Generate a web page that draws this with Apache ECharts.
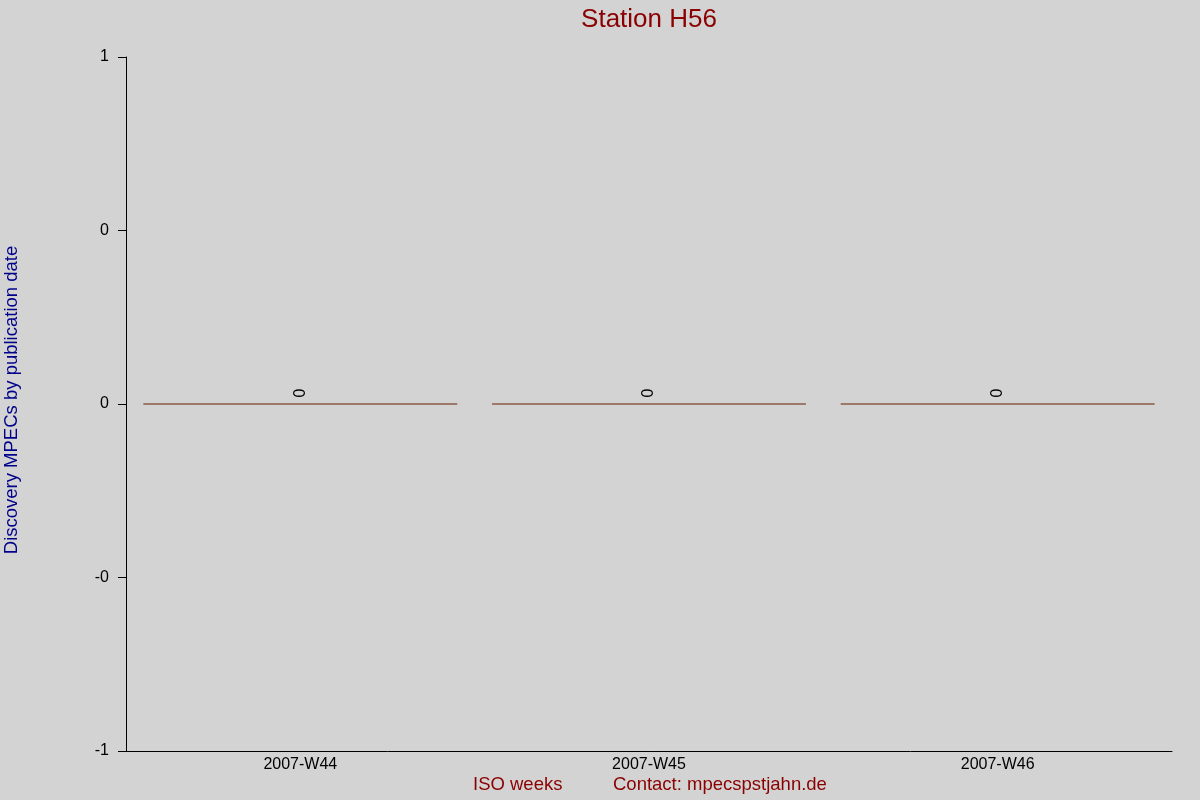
<!DOCTYPE html>
<html>
<head>
<meta charset="utf-8">
<title>Station H56</title>
<script src="https://cdn.jsdelivr.net/npm/echarts@6/dist/echarts.min.js"></script>
<style>
  html, body { margin: 0; padding: 0; background: #d3d3d3; }
  #chart { width: 1200px; height: 800px; }
</style>
</head>
<body>
<div id="chart"></div>
<script>
// data
const weeks = ['2007-W44', '2007-W45', '2007-W46']
const discoveries = [0, 0, 0]
const yTickValues = [-1, -0.5, 0, 0.5, 1]
const yTickLabels = ['-1', '-0', '0', '0', '1']

const chart = echarts.init(document.getElementById('chart'))

const option = {
  backgroundColor: '#d3d3d3',
  animation: false,
  textStyle: { fontFamily: 'Liberation Sans, Arial, sans-serif' },
  title: {
    text: 'Station H56',
    left: 644,
    textAlign: 'center',
    top: 2,
    textStyle: { color: '#8b0000', fontSize: 26, fontWeight: 'normal' }
  },
  grid: {
    left: 126,
    right: 28,
    top: 57,
    bottom: 49
  },
  xAxis: {
    type: 'category',
    data: weeks,
    axisLine: { onZero: false, lineStyle: { color: '#000', width: 1 } },
    axisTick: { show: false },
    axisLabel: { color: '#000', fontSize: 16, margin: 6 }
  },
  yAxis: {
    type: 'value',
    min: -1,
    max: 1,
    interval: 0.5,
    axisLine: { show: true, lineStyle: { color: '#000', width: 1 } },
    axisTick: { show: true, length: 8, lineStyle: { color: '#000' } },
    splitLine: { show: false },
    axisLabel: {
      color: '#000',
      fontSize: 16,
      margin: 17,
      formatter: v => {
        const i = yTickValues.findIndex(t => Math.abs(t - v) < 1e-9)
        return i >= 0 ? yTickLabels[i] : ''
      }
    }
  },
  series: [
    {
      type: 'bar',
      data: discoveries,
      barWidth: '90%',
      itemStyle: { color: '#8a5a48', borderColor: '#8a5a48', borderWidth: 1 },
      label: {
        show: true,
        position: 'top',
        rotate: 90,
        align: 'left',
        verticalAlign: 'middle',
        distance: 6,
        color: '#000',
        fontSize: 16,
        formatter: p => String(p.value)
      }
    }
  ],
  graphic: [
    {
      type: 'text',
      left: 2,
      top: 'middle',
      rotation: Math.PI / 2,
      style: {
        text: 'Discovery MPECs by publication date',
        fill: '#00008b',
        font: '18.5px Liberation Sans, Arial, sans-serif'
      }
    },
    {
      type: 'text',
      left: 473,
      top: 775,
      style: {
        text: 'ISO weeks',
        fill: '#8b0000',
        font: '18.5px Liberation Sans, Arial, sans-serif'
      }
    },
    {
      type: 'text',
      left: 613,
      top: 775,
      style: {
        text: 'Contact: mpecspstjahn.de',
        fill: '#8b0000',
        font: '18.5px Liberation Sans, Arial, sans-serif'
      }
    }
  ]
}

chart.setOption(option)
</script>
</body>
</html>
